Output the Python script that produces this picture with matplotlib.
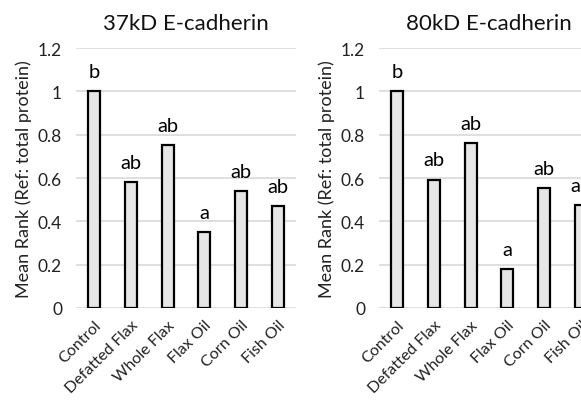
import matplotlib
matplotlib.use("Agg")
import matplotlib.pyplot as plt

plt.rcParams['font.family'] = ['Lato', 'DejaVu Sans']

categories = ["Control", "Defatted Flax", "Whole Flax", "Flax Oil", "Corn Oil", "Fish Oil"]
values_37 = [1.0, 0.58, 0.754, 0.349, 0.538, 0.469]
values_80 = [1.0, 0.593, 0.76, 0.18, 0.552, 0.475]
letters_37 = ["b", "ab", "ab", "a", "ab", "ab"]
letters_80 = ["b", "ab", "ab", "a", "ab", "ab"]
titles = ["37kD E-cadherin", "80kD E-cadherin"]
yticks = [0, 0.2, 0.4, 0.6, 0.8, 1.0, 1.2]
ytick_labels = ["0", "0.2", "0.4", "0.6", "0.8", "1", "1.2"]

W, H = 581, 406
fig = plt.figure(figsize=(W / 100, H / 100), dpi=100)

panels = [
    (values_37, letters_37, titles[0], 76),
    (values_80, letters_80, titles[1], 379),
]
for vals, letters, title, x0 in panels:
    ax = fig.add_axes([x0 / W, (H - 309) / H, 220 / W, 260 / H])
    x = range(len(categories))
    ax.bar(x, vals, width=0.33, color="#e6e6e6", edgecolor="black", linewidth=1.6, zorder=3)
    for xi, v, lab in zip(x, vals, letters):
        ax.annotate(lab, (xi, v), xytext=(0, 8), textcoords="offset points",
                    ha="center", va="bottom", fontsize=14.5, color="black")
    ax.set_xlim(-0.5, len(categories) - 0.5)
    ax.set_ylim(0, 1.2)
    ax.set_yticks(yticks)
    ax.set_yticklabels(ytick_labels, fontsize=12.5, color="#222222")
    ax.set_xticks(list(x))
    ax.set_xticklabels(categories, rotation=45, ha="right", rotation_mode="anchor", fontsize=11.5, color="#222222")
    ax.tick_params(axis="y", length=0, pad=10)
    ax.tick_params(axis="x", length=0, pad=7)
    ax.grid(axis="y", color="#d9d9d9", linewidth=1.2, zorder=0)
    for s in ax.spines.values():
        s.set_visible(False)
    ax.set_ylabel("Mean Rank (Ref: total protein)", fontsize=13, color="#222222", labelpad=4)
    ax.set_title(title, fontsize=16, pad=14, color="#111111")

fig.savefig("out.png", dpi=100)
